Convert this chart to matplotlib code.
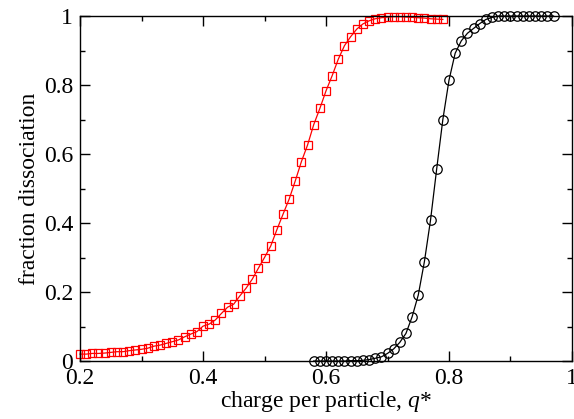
import matplotlib
matplotlib.use("Agg")
from matplotlib import pyplot as plt
from matplotlib.ticker import MultipleLocator, FuncFormatter

plt.rcParams['font.family'] = ['Liberation Serif', 'DejaVu Serif']
plt.rcParams['mathtext.fontset'] = 'custom'
plt.rcParams['mathtext.it'] = 'Liberation Serif:italic'
plt.rcParams['mathtext.rm'] = 'Liberation Serif'

# red squares
q_red = [0.20, 0.21, 0.22, 0.23, 0.24, 0.25, 0.26, 0.27, 0.28, 0.29,
         0.30, 0.31, 0.32, 0.33, 0.34, 0.35, 0.36, 0.37, 0.38, 0.39,
         0.40, 0.41, 0.42, 0.43, 0.44, 0.45, 0.46, 0.47, 0.48, 0.49,
         0.50, 0.51, 0.52, 0.53, 0.54, 0.55, 0.56, 0.57, 0.58, 0.59,
         0.60, 0.61, 0.62, 0.63, 0.64, 0.65, 0.66, 0.67, 0.68, 0.69,
         0.70, 0.71, 0.72, 0.73, 0.74, 0.75, 0.76, 0.77, 0.78, 0.79]
f_red = [0.020, 0.020, 0.022, 0.022, 0.023, 0.025, 0.027, 0.027, 0.030, 0.032,
         0.034, 0.037, 0.043, 0.046, 0.051, 0.056, 0.061, 0.070, 0.078, 0.085,
         0.101, 0.107, 0.119, 0.138, 0.156, 0.165, 0.189, 0.211, 0.237, 0.269,
         0.300, 0.333, 0.380, 0.425, 0.469, 0.522, 0.578, 0.626, 0.685, 0.732,
         0.783, 0.827, 0.875, 0.914, 0.940, 0.962, 0.977, 0.986, 0.992, 0.995,
         0.997, 0.998, 0.998, 0.997, 0.996, 0.995, 0.994, 0.992, 0.991, 0.990]

# black circles
q_blk = [0.58, 0.59, 0.60, 0.61, 0.62, 0.63, 0.64, 0.65, 0.66, 0.67,
         0.68, 0.69, 0.70, 0.71, 0.72, 0.73, 0.74, 0.75, 0.76, 0.77,
         0.78, 0.79, 0.80, 0.81, 0.82, 0.83, 0.84, 0.85, 0.86, 0.87,
         0.88, 0.89, 0.90, 0.91, 0.92, 0.93, 0.94, 0.95, 0.96, 0.97]
f_blk = [0.000, 0.000, 0.000, 0.000, 0.000, 0.000, 0.001, 0.001, 0.002, 0.004,
         0.008, 0.012, 0.022, 0.035, 0.054, 0.080, 0.128, 0.191, 0.288, 0.409,
         0.557, 0.700, 0.814, 0.892, 0.928, 0.950, 0.964, 0.978, 0.990, 0.996,
         1.000, 1.000, 1.000, 1.000, 1.000, 1.000, 1.000, 1.000, 1.000, 1.000]

fig = plt.figure(figsize=(5.74, 4.19), dpi=100)
ax = fig.add_axes([0.1394, 0.1384, 0.8571, 0.8234])

ax.plot(q_red, f_red, color='red', lw=0.9, marker='s', ms=6.2,
        mfc='none', mec='red', mew=0.9, clip_on=False)
ax.plot(q_blk, f_blk, color='black', lw=0.9, marker='o', ms=6.8,
        mfc='none', mec='black', mew=0.9, clip_on=False)

ax.set_xlim(0.2, 1.0)
ax.set_ylim(0, 1)
ax.xaxis.set_major_locator(MultipleLocator(0.2))
ax.xaxis.set_minor_locator(MultipleLocator(0.1))
ax.yaxis.set_major_locator(MultipleLocator(0.2))
ax.yaxis.set_minor_locator(MultipleLocator(0.1))
fmt = FuncFormatter(lambda v, p: '%g' % round(v, 2))
ax.xaxis.set_major_formatter(fmt)
ax.yaxis.set_major_formatter(fmt)
ax.tick_params(which='both', direction='in', top=True, right=True,
               labelsize=17, width=1)
ax.tick_params(which='major', length=7, pad=5)
ax.tick_params(which='minor', length=3.5)
for s in ax.spines.values():
    s.set_linewidth(1)

ax.set_xlabel('charge per particle, $q$*', fontsize=17, labelpad=0)
ax.set_ylabel('fraction dissociation', fontsize=17, labelpad=3)

fig.savefig('out.png', dpi=100)
